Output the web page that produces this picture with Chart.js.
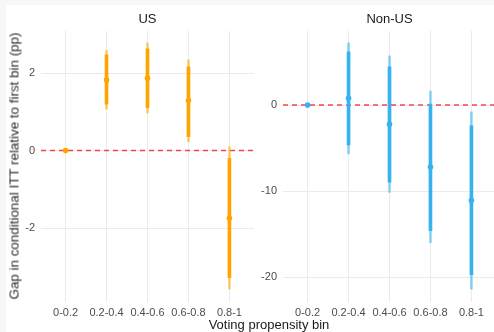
<!DOCTYPE html>
<html lang="en">
<head>
    <meta charset="UTF-8">
    <title>Gap in conditional ITT</title>
    <script src="https://cdn.jsdelivr.net/npm/chart.js@4.4.0/dist/chart.umd.min.js"></script>
    <style>
        html, body { margin: 0; padding: 0; }
        body { width: 494px; height: 332px; overflow: hidden; position: relative; background: #f7f7f7; font-family: "Liberation Sans", Arial, sans-serif; }
        #sheet { position: absolute; left: 6px; top: 5px; right: 0; bottom: 0; background: #fff; }
        .panel { position: absolute; top: 0; height: 332px; }
        #us_panel { left: 0; width: 254px; }
        #nonus_panel { left: 254px; width: 242px; }
        #y_title { position: absolute; left: 14px; top: 166px; transform: translate(-50%, -50%) rotate(-90deg); white-space: nowrap; font-size: 13.4px; font-weight: 400; color: #2b2b2b; }
        #x_title { position: absolute; left: 269px; top: 317px; transform: translateX(-50%); white-space: nowrap; font-size: 13px; font-weight: 400; line-height: 16px; color: #1a1a1a; }
    </style>
</head>
<body>
    <div id="sheet"></div>
    <div class="panel" id="us_panel"><canvas id="us_chart" width="254" height="332"></canvas></div>
    <div class="panel" id="nonus_panel"><canvas id="nonus_chart" width="242" height="332"></canvas></div>
    <div id="y_title">Gap in conditional ITT relative to first bin (pp)</div>
    <div id="x_title">Voting propensity bin</div>
    <script>
        // voting propensity bins
        const categories = ['0-0.2', '0.2-0.4', '0.4-0.6', '0.6-0.8', '0.8-1'];

        // US panel
        const us_est      = [0, 1.82, 1.87, 1.29, -1.75];
        const us_inner_lo = [0, 1.20, 1.11, 0.36, -3.28];
        const us_inner_hi = [0, 2.47, 2.63, 2.16, -0.20];
        const us_outer_lo = [0, 1.07, 0.97, 0.23, -3.58];
        const us_outer_hi = [0, 2.58, 2.78, 2.34, 0.10];
        const us_ticks    = [-2, 0, 2];

        // Non-US panel
        const nonus_est      = [0, 0.78, -2.24, -7.2, -11.1];
        const nonus_inner_lo = [0, -4.63, -8.96, -14.6, -19.7];
        const nonus_inner_hi = [0, 6.18, 4.44, 0.1, -2.43];
        const nonus_outer_lo = [0, -5.68, -10.16, -16.0, -21.4];
        const nonus_outer_hi = [0, 7.22, 5.71, 1.62, -0.78];
        const nonus_ticks    = [-20, -10, 0];

        const ref_line = 0;

        const ref_line_plugin = {
            id: 'ref_line',
            beforeDatasetsDraw(chart) {
                const ctx = chart.ctx;
                const area = chart.chartArea;
                const y = chart.scales.y.getPixelForValue(ref_line);
                ctx.save();
                ctx.strokeStyle = 'rgba(245, 40, 40, 0.85)';
                ctx.lineWidth = 1.4;
                ctx.setLineDash([5, 4]);
                ctx.beginPath();
                ctx.moveTo(area.left, y);
                ctx.lineTo(area.right, y);
                ctx.stroke();
                ctx.restore();
            }
        };

        function make_panel(canvas_id, title, est, inner_lo, inner_hi, outer_lo, outer_hi, ticks, color, color_light, y_axis_width) {
            // ggplot style 5% expansion of the data range
            const lo = Math.min(...outer_lo, ...est);
            const hi = Math.max(...outer_hi, ...est);
            const pad = (hi - lo) * 0.05;

            const points = est.map((v, i) => ({ x: i + 1, y: v }));
            const inner = inner_lo.map((v, i) => ({ x: i + 1, y: [v, inner_hi[i]] }));
            const outer = outer_lo.map((v, i) => ({ x: i + 1, y: [v, outer_hi[i]] }));

            const config = {
                type: 'bar',
                data: {
                    datasets: [
                        { type: 'scatter', data: points, backgroundColor: color, borderWidth: 0, pointRadius: 2.8, order: 0 },
                        { data: inner, backgroundColor: color, barThickness: 3, grouped: false, order: 1 },
                        { data: outer, backgroundColor: color_light, barThickness: 1.8, grouped: false, order: 2 }
                    ]
                },
                options: {
                    responsive: false,
                    animation: false,
                    events: [],
                    layout: { padding: 0, autoPadding: false },
                    plugins: {
                        legend: { display: false },
                        tooltip: { enabled: false },
                        title: {
                            display: true,
                            text: title,
                            fullSize: false,
                            color: '#1a1a1a',
                            font: { family: '"Liberation Sans", Arial, sans-serif', size: 13, weight: 'normal', lineHeight: 1.2 },
                            padding: { top: 12, bottom: 3 }
                        }
                    },
                    scales: {
                        x: {
                            type: 'linear',
                            min: 0.4,
                            max: 5.6,
                            offset: false,
                            border: { display: false },
                            grid: { color: '#ebebeb', lineWidth: 1, drawTicks: false, offset: false },
                            afterBuildTicks: s => { s.ticks = categories.map((c, i) => ({ value: i + 1 })); },
                            afterFit: s => { s.height = 30.5; s.paddingLeft = 0; s.paddingRight = 0; },
                            ticks: {
                                padding: 5,
                                color: '#4d4d4d',
                                maxRotation: 0,
                                autoSkip: false,
                                font: { family: '"Liberation Sans", Arial, sans-serif', size: 11 },
                                callback: v => categories[Math.round(v) - 1]
                            }
                        },
                        y: {
                            min: lo - pad,
                            max: hi + pad,
                            border: { display: false },
                            grid: { color: '#ebebeb', lineWidth: 1, drawTicks: false },
                            afterBuildTicks: s => { s.ticks = ticks.map(v => ({ value: v })); },
                            afterFit: s => { s.width = y_axis_width; s.paddingTop = 0; s.paddingBottom = 0; },
                            ticks: {
                                padding: 6,
                                color: '#4d4d4d',
                                font: { family: '"Liberation Sans", Arial, sans-serif', size: 11 },
                                callback: v => v
                            }
                        }
                    }
                },
                plugins: [ref_line_plugin]
            };

            return new Chart(document.getElementById(canvas_id).getContext('2d'), config);
        }

        make_panel('us_chart', 'US', us_est, us_inner_lo, us_inner_hi, us_outer_lo, us_outer_hi, us_ticks,
            '#FFA500', 'rgba(255, 165, 0, 0.6)', 41);
        make_panel('nonus_chart', 'Non-US', nonus_est, nonus_inner_lo, nonus_inner_hi, nonus_outer_lo, nonus_outer_hi, nonus_ticks,
            '#35B3EE', 'rgba(53, 179, 238, 0.6)', 29);
    </script>
</body>
</html>
